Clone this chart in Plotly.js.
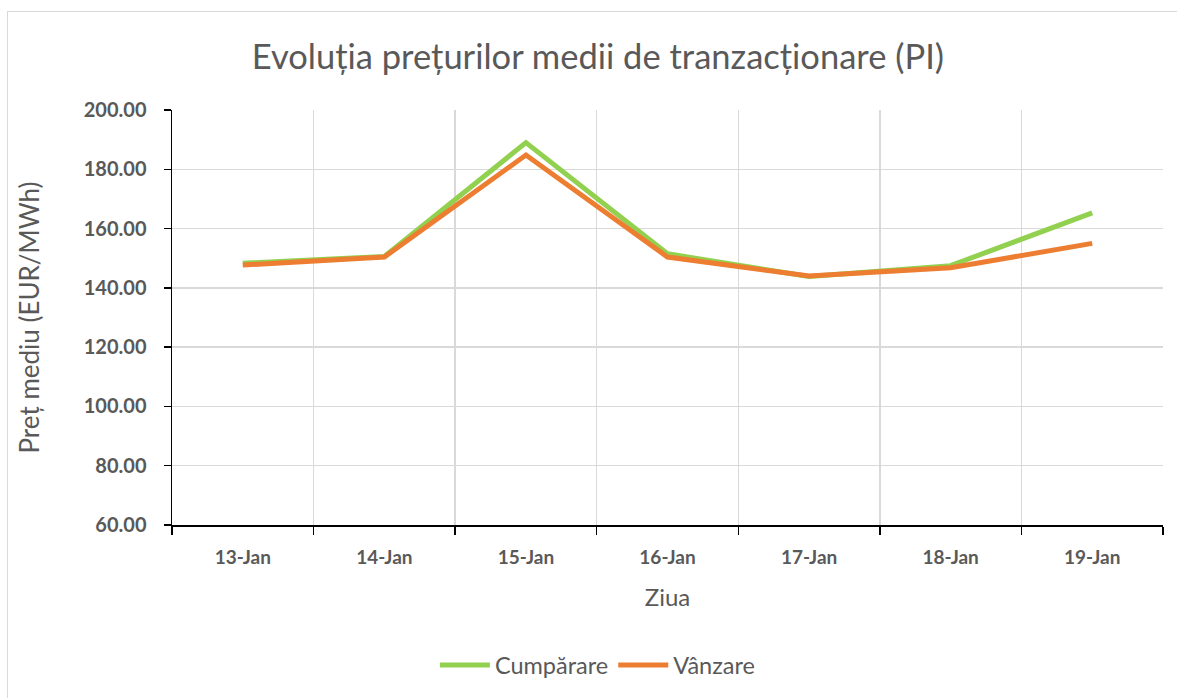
<!DOCTYPE html>
<html>
<head>
<meta charset="utf-8">
<script src="https://cdn.plot.ly/plotly-3.0.1.min.js"></script>
<style>
html,body{margin:0;padding:0;background:#fff;overflow:hidden;}
#chart{position:absolute;left:0;top:0;width:1177px;height:698px;}
#frame{position:absolute;left:7px;top:11px;width:1300px;height:900px;border:1.5px solid #d9d9d9;pointer-events:none;}
</style>
</head>
<body>
<div id="chart"></div>
<div id="frame"></div>
<script>
const categories = ["13-Jan","14-Jan","15-Jan","16-Jan","17-Jan","18-Jan","19-Jan"];
const cumparare = [148.3, 150.6, 189.0, 151.5, 143.8, 147.5, 165.3];
const vanzare   = [147.7, 150.4, 184.8, 150.4, 144.0, 146.8, 155.0];
const seriesNames = ["Cumpărare", "Vânzare"];
const yTicks = [60, 80, 100, 120, 140, 160, 180, 200];

const font = "Lato, 'Open Sans', sans-serif";
const traces = [
  {x: categories, y: cumparare, name: seriesNames[0], type: "scatter", mode: "lines",
   line: {color: "#92D050", width: 5}},
  {x: categories, y: vanzare, name: seriesNames[1], type: "scatter", mode: "lines",
   line: {color: "#ED7D31", width: 5}}
];
const layout = {
  width: 1177, height: 698,
  margin: {l: 172, r: 14, t: 110, b: 173},
  paper_bgcolor: "rgba(0,0,0,0)", plot_bgcolor: "#fff",
  font: {family: font, color: "#595959"},
  title: {text: "Evoluția prețurilor medii de tranzacționare (PI)", x: 0.508, xref: "container",
          y: 0.918, yref: "container", yanchor: "middle",
          font: {family: font, size: 34.5, color: "#595959"}},
  xaxis: {type: "category", tickson: "boundaries", ticks: "outside", ticklen: 8, tickwidth: 1.5,
          tickcolor: "#000", showline: true, linecolor: "#000", linewidth: 1.5,
          showgrid: true, gridcolor: "#d9d9d9", gridwidth: 1.5, ticklabelstandoff: 15,
          tickfont: {family: font, size: 19, color: "#595959", weight: "bold"},
          title: {text: "Ziua", font: {family: font, size: 24, color: "#595959"}, standoff: 22},
          range: [-0.5, 6.5], fixedrange: true},
  yaxis: {range: [60, 200], tickvals: yTicks, tickformat: ".2f", ticks: "outside", ticklen: 7,
          tickwidth: 1.5, tickcolor: "#000", showline: true, linecolor: "#000", linewidth: 1.5,
          showgrid: true, gridcolor: "#d9d9d9", gridwidth: 1.5, zeroline: false, ticklabelstandoff: 13,
          tickfont: {family: font, size: 20, color: "#595959", weight: "bold"},
          title: {text: "Preț mediu (EUR/MWh)", font: {family: font, size: 26, color: "#595959"}, standoff: 36}},
  legend: {orientation: "h", x: 0.508, xref: "container", xanchor: "center", y: 0.047, yref: "container",
           yanchor: "middle", font: {family: font, size: 23.5, color: "#595959"}, itemwidth: 50,
           traceorder: "normal"},
  showlegend: true
};
Plotly.newPlot("chart", traces, layout, {displayModeBar: false, staticPlot: true});
</script>
</body>
</html>
